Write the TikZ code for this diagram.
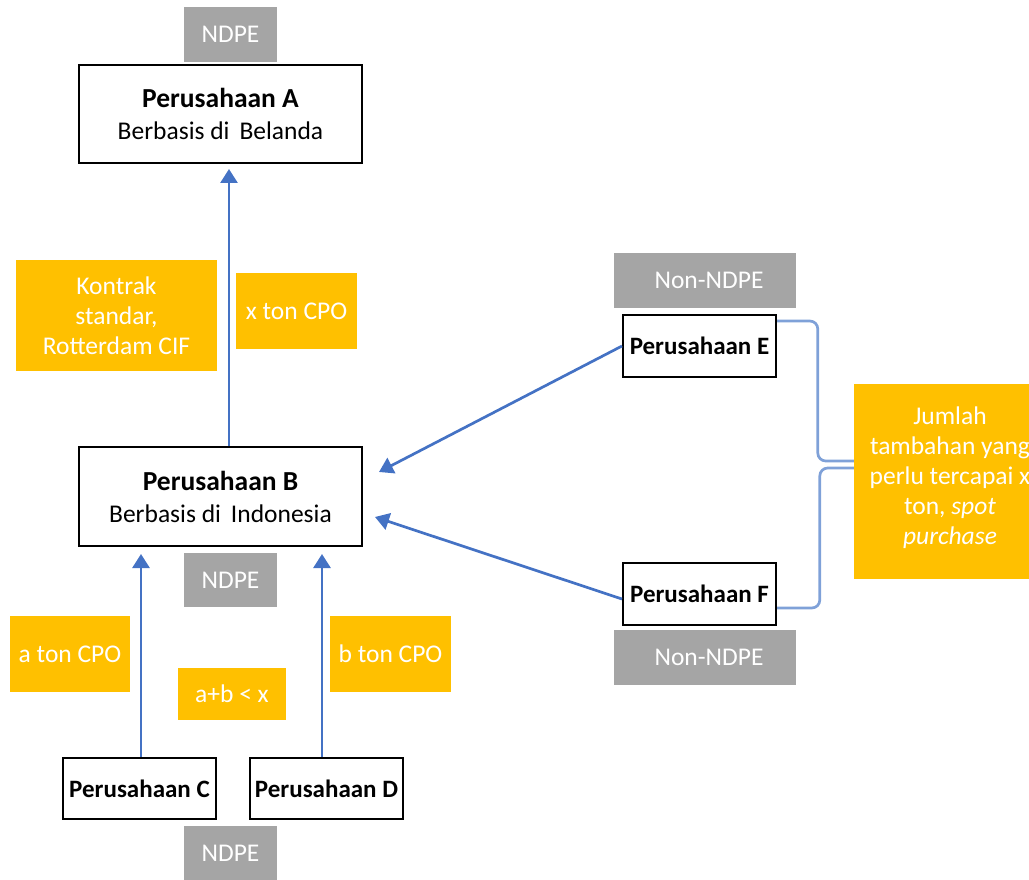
\documentclass[tikz,border=0pt]{standalone}
\usepackage{fontspec}
\setmainfont{Carlito}
\usetikzlibrary{arrows.meta,calc}
\definecolor{ylw}{HTML}{FFC000}
\definecolor{gry}{HTML}{A5A5A5}
\definecolor{arrblue}{HTML}{4472C4}
\definecolor{brkblue}{HTML}{7FA1D8}
\begin{document}
\begin{tikzpicture}[x=1pt,y=-1pt,
  every node/.style={font=\fontsize{25.5}{30}\selectfont},
  cbox/.style={draw=black, line width=2pt, fill=white, inner sep=0pt, align=center},
  ybox/.style={fill=ylw, text=white, inner sep=0pt, align=center},
  gbox/.style={fill=gry, text=white, inner sep=0pt, align=center},
  arr/.style={draw=arrblue, line width=2.7pt, -{Triangle[width=17pt,length=14pt]}},
  brk/.style={draw=brkblue, line width=2.7pt, rounded corners=8pt}
]
\useasboundingbox (0,0) rectangle (1029,880);
% top
\node[gbox, minimum width=93pt, minimum height=55pt] (ndpeA) at (230.5,34.5) {NDPE};
\node[cbox, minimum width=283pt, minimum height=98pt, font=\fontsize{25.5}{32}\selectfont] (A) at (220.5,114) {{\fontsize{27.5}{32}\selectfont\bfseries Perusahaan A}\\Berbasis di\, Belanda};
\node[ybox, minimum width=201pt, minimum height=111pt] (kontrak) at (116.5,315.5) {Kontrak\\standar,\\Rotterdam CIF};
\node[ybox, minimum width=121pt, minimum height=76pt] (xton) at (296.5,311) {x ton CPO};
% B
\node[cbox, minimum width=283pt, minimum height=99pt, font=\fontsize{25.5}{32}\selectfont] (B) at (220.5,496.5) {{\fontsize{27.5}{32}\selectfont\bfseries Perusahaan B}\\Berbasis di\, Indonesia};
\node[gbox, minimum width=93pt, minimum height=54pt] (ndpeB) at (230.5,580) {NDPE};
\node[ybox, minimum width=120pt, minimum height=76pt] (aton) at (70,654) {a ton CPO};
\node[ybox, minimum width=108pt, minimum height=52pt] (ab) at (232,694) {a+b < x};
\node[ybox, minimum width=121pt, minimum height=76pt] (bton) at (390.5,654) {b ton CPO};
% C D
\node[cbox, minimum width=153pt, minimum height=61pt, font=\fontsize{25}{30}\selectfont\bfseries] (C) at (139.5,788.5) {Perusahaan C};
\node[cbox, minimum width=153pt, minimum height=61pt, font=\fontsize{25}{30}\selectfont\bfseries] (D) at (326.5,788.5) {Perusahaan D};
\node[gbox, minimum width=93pt, minimum height=54pt] (ndpeC) at (230.5,853) {NDPE};
% E F
\node[gbox, minimum width=182pt, minimum height=55pt] (nonE) at (705,280.5) {\hspace{8pt}Non-NDPE};
\node[cbox, minimum width=153pt, minimum height=62pt, font=\fontsize{25}{30}\selectfont\bfseries] (E) at (699.5,346) {Perusahaan E};
\node[cbox, minimum width=153pt, minimum height=62pt, font=\fontsize{25}{30}\selectfont\bfseries] (F) at (699.5,594) {Perusahaan F};
\node[gbox, minimum width=182pt, minimum height=55pt] (nonF) at (705,657.5) {\hspace{8pt}Non-NDPE};
\node[ybox, minimum width=175pt, minimum height=195pt] (J) at (941.5,481.5) {};
\node[text=white, align=center, inner sep=0pt] (Jt) at (950,478) {Jumlah\\tambahan yang\\perlu tercapai x\\ton, \textit{spot}\\\textit{purchase}};
% arrows
\coordinate (aS) at ($(A.south)+(8.5,5)$);
\coordinate (bN) at ($(B.north)+(8.5,0)$);
\draw[arr] (bN) -- (aS);
\coordinate (cT) at ($(C.north |- B.south)+(1.5,7)$);
\coordinate (cN) at ($(C.north)+(1.5,0)$);
\draw[arr] (cN) -- (cT);
\coordinate (dT) at ($(D.north |- B.south)+(-4.5,7)$);
\coordinate (dN) at ($(D.north)+(-4.5,0)$);
\draw[arr] (dN) -- (dT);
\coordinate (bE1) at ($(B.east)+(16,-24.5)$);
\coordinate (bE2) at ($(B.east)+(12,20.5)$);
\coordinate (fW) at ($(F.west)+(0,5)$);
\draw[arr] (E.west) -- (bE1);
\draw[arr] (fW) -- (bE2);
% brackets
\coordinate (e1) at ($(E.north east)+(0,7)$);
\coordinate (jt) at ($(J.west)+(0,-20.5)$);
\draw[brk] (e1) -| ($(jt)+(-36,0)$) -- (jt);
\coordinate (f1) at ($(F.south east)+(0,-18)$);
\coordinate (jb) at ($(J.west)+(0,-13.5)$);
\draw[brk] (f1) -| ($(jb)+(-34,0)$) -- (jb);
\end{tikzpicture}
\end{document}
